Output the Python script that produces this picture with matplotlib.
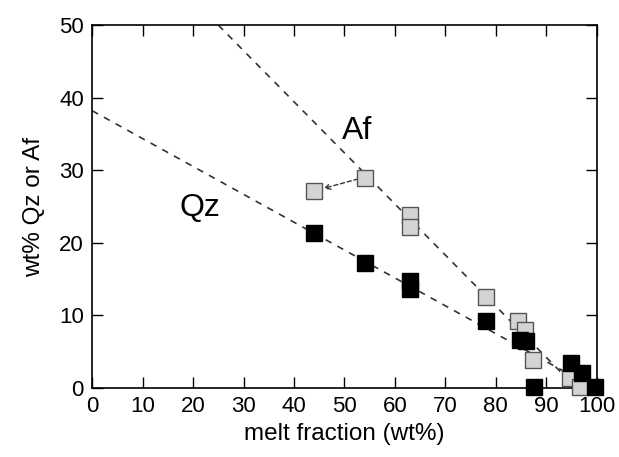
import matplotlib.pyplot as plt

plt.rcParams['font.family'] = ['Liberation Sans', 'DejaVu Sans']

# Af (gray squares)
af_x = [44, 54, 63, 63, 78, 84.3, 85.8, 87.3, 94.8, 96.6]
af_y = [27.2, 29.0, 23.8, 22.2, 12.6, 9.3, 8.0, 3.9, 1.4, 0.1]
# Qz (black squares)
qz_x = [44, 54, 63, 63, 78, 84.8, 86.0, 87.5, 95.0, 97.0, 99.6]
qz_y = [21.3, 17.2, 14.8, 13.6, 9.2, 6.6, 6.5, 0.2, 3.4, 2.0, 0.1]

# dashed trend lines (end points)
af_line_x = [25, 96]
af_line_y = [50, 0]
qz_line_x = [0, 99.5]
qz_line_y = [38.2, 0]

fig = plt.figure(figsize=(6.19, 4.57), dpi=100)
ax = fig.add_axes([0.149, 0.151, 0.815, 0.794])

ax.plot(af_line_x, af_line_y, color='#333333', linestyle=(0, (4, 4)), lw=1.2, zorder=1)
ax.plot(qz_line_x, qz_line_y, color='#333333', linestyle=(0, (4, 4)), lw=1.2, zorder=1)

ax.annotate('', xy=(45.3, 27.4), xytext=(53.2, 28.9),
            arrowprops=dict(arrowstyle='->', linestyle=(0, (3, 2)), color='#333333', lw=1.0),
            zorder=2)

ax.plot(af_x, af_y, 's', ms=12, mfc='#d4d4d4', mec='#555555', mew=1.0, zorder=3,
        clip_on=False)
ax.plot(qz_x, qz_y, 's', ms=12, mfc='black', mec='black', zorder=4, clip_on=False)

ax.text(52.6, 35.4, 'Af', fontsize=23, ha='center', va='center')
ax.text(21.3, 24.8, 'Qz', fontsize=23, ha='center', va='center')

ax.set_xlim(0, 100)
ax.set_ylim(0, 50)
ax.set_xticks(range(0, 101, 10))
ax.set_yticks(range(0, 51, 10))
ax.tick_params(direction='in', length=8, width=1, labelsize=16,
               top=True, right=True, pad=6)
for s in ax.spines.values():
    s.set_linewidth(1.2)

ax.set_xlabel('melt fraction (wt%)', fontsize=17.5, labelpad=4)
ax.set_ylabel('wt% Qz or Af', fontsize=17.5, labelpad=10)

fig.savefig('out.png', dpi=100)
